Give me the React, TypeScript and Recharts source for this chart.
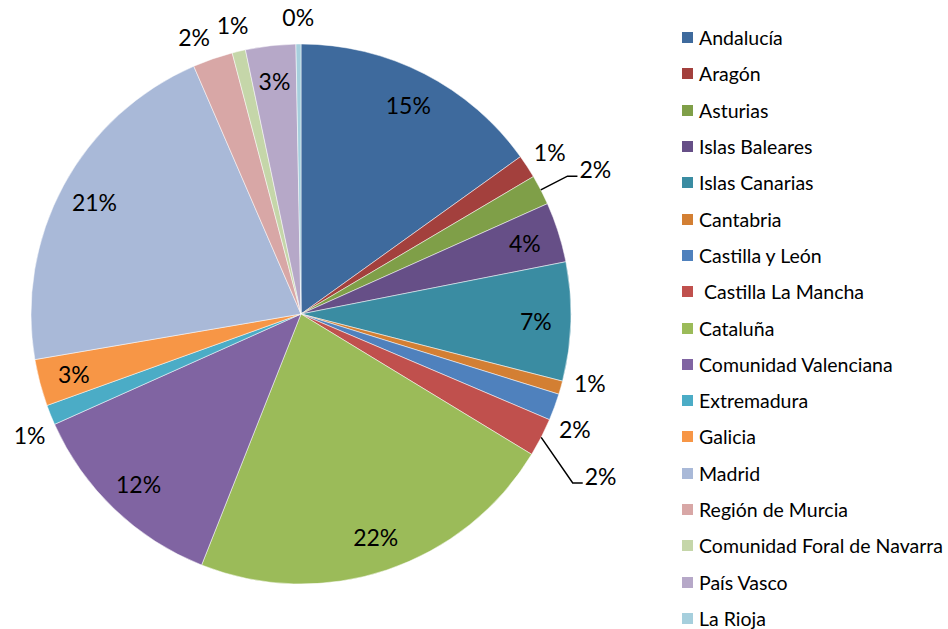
import React from 'react';
import { PieChart, Pie, Cell, Legend } from 'recharts';

const regions = [
  'Andalucía',
  'Aragón',
  'Asturias',
  'Islas Baleares',
  'Islas Canarias',
  'Cantabria',
  'Castilla y León',
  ' Castilla La Mancha',
  'Cataluña',
  'Comunidad Valenciana',
  'Extremadura',
  'Galicia',
  'Madrid',
  'Región de Murcia',
  'Comunidad Foral de Navarra',
  'País Vasco',
  'La Rioja',
];

const shares = [15.1, 1.4, 1.8, 3.6, 7.1, 0.8, 1.6, 2.3, 22.3, 12.3, 1.2, 2.8, 21.2, 2.4, 0.8, 3.0, 0.3];

const colors = [
  '#3E6A9D', '#A3403D', '#7F9F48', '#664F87', '#3A8CA2', '#D37F33',
  '#4F81BD', '#C0504D', '#9BBB59', '#8064A2', '#4BACC6', '#F79646',
  '#A9B9D8', '#D8A7A6', '#C5D6A9', '#B6A8C8', '#A6CFDD',
];

// labels that need a leader line: how far out they bend and the bend's angle shift
const leaders: Record<number, { out: number; turn: number }> = {
  2: { out: 30, turn: 0 },
  7: { out: 50, turn: -4.7 },
};
// small angle nudges (degrees, counter-clockwise) so outside labels don't collide
const nudge: Record<number, number> = { 5: 2.4, 6: -2.6, 10: 2, 13: 2 };

const data = regions.map((name, i) => ({ name, value: shares[i] }));

const FONT = 'Lato, "Open Sans", sans-serif';
const RAD = Math.PI / 180;

const renderLabel = (props: any) => {
  const { cx, cy, midAngle, outerRadius, percent, index } = props;
  const pct = `${Math.round(percent * 100)}%`;
  const ld = leaders[index];
  if (ld) {
    const sx = cx + outerRadius * Math.cos(-midAngle * RAD);
    const sy = cy + outerRadius * Math.sin(-midAngle * RAD);
    const ba = midAngle + ld.turn;
    const mx = cx + (outerRadius + ld.out) * Math.cos(-ba * RAD);
    const my = cy + (outerRadius + ld.out) * Math.sin(-ba * RAD);
    const ex = mx + 10;
    return (
      <g key={`l-${index}`}>
        <polyline points={`${sx},${sy} ${mx},${my} ${ex},${my}`} stroke="#000" strokeWidth={1.5} fill="none" />
        <text x={ex + 2} y={my - 7} fontSize={23} fontFamily={FONT} fill="#000" textAnchor="start" dominantBaseline="central">
          {pct}
        </text>
      </g>
    );
  }
  const inside = percent > 0.0275;
  const ang = midAngle + (nudge[index] || 0);
  const r = inside ? outerRadius * 0.87 : outerRadius + 27;
  return (
    <text
      key={`l-${index}`}
      x={cx + r * Math.cos(-ang * RAD)}
      y={cy + r * Math.sin(-ang * RAD)}
      fontSize={23}
      fontFamily={FONT}
      fill="#000"
      textAnchor="middle"
      dominantBaseline="central"
    >
      {pct}
    </text>
  );
};

const renderLegend = () => (
  <div style={{ fontFamily: FONT, fontSize: 19.5, color: '#000' }}>
    {regions.map((name, i) => (
      <div key={name} style={{ display: 'flex', alignItems: 'center', height: 36.3 }}>
        <span style={{ width: 11, height: 11, background: colors[i], marginRight: 6, flexShrink: 0 }} />
        <span style={{ whiteSpace: 'pre' }}>{name}</span>
      </div>
    ))}
  </div>
);

export default function App() {
  return (
    <div style={{ position: 'absolute', left: 0, top: 0, background: '#fff' }}>
      <PieChart width={948} height={629} margin={{ top: 0, right: 0, bottom: 0, left: 0 }}>
        <Pie
          data={data}
          dataKey="value"
          nameKey="name"
          cx={301}
          cy={314}
          outerRadius={270}
          startAngle={90}
          endAngle={-270}
          stroke="#fff"
          strokeWidth={0.5}
          label={renderLabel}
          labelLine={false}
          isAnimationActive={false}
        >
          {data.map((d, i) => (
            <Cell key={d.name} fill={colors[i]} />
          ))}
        </Pie>
        <Legend
          content={renderLegend}
          layout="vertical"
          wrapperStyle={{ position: 'absolute', left: 682, top: 19.5, width: 266 }}
        />
      </PieChart>
    </div>
  );
}
